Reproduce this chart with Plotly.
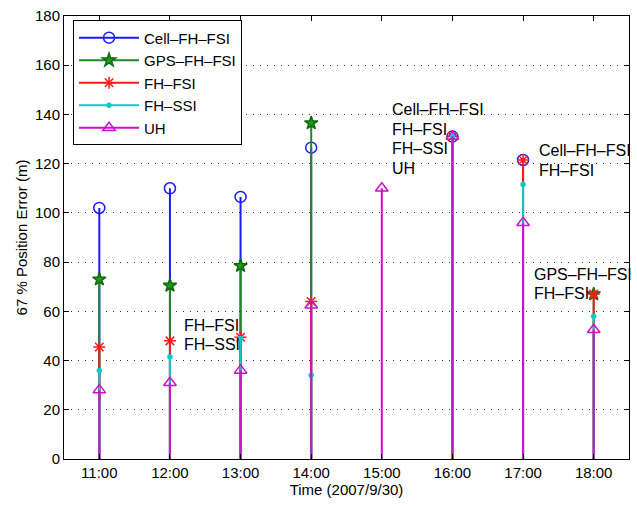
import plotly.graph_objects as go

hours = [11, 12, 13, 14, 15, 16, 17, 18]
tick_labels = ["11:00", "12:00", "13:00", "14:00", "15:00", "16:00", "17:00", "18:00"]
y_ticks = [0, 20, 40, 60, 80, 100, 120, 140, 160, 180]

cell_fh_fsi = [102, 110, 106.5, 126.5, None, 131, 121.5, None]
gps_fh_fsi = [73, 70.5, 78.5, 136.5, None, None, None, 67]
fh_fsi = [45.5, 48, 49.5, 64, None, 131, 121.5, 67]
fh_ssi = [36, 41.5, 49, 34, None, 131, 111.5, 58]
uh = [28, 31, 36, 62.5, 110, 131, 96, 52.5]

series_names = ["Cell–FH–FSI", "GPS–FH–FSI", "FH–FSI", "FH–SSI", "UH"]
series_values = [cell_fh_fsi, gps_fh_fsi, fh_fsi, fh_ssi, uh]

styles = [
    dict(color="#1a1aff", symbol="circle-open", size=11, mline="#1a1aff", mfill="#1a1aff"),
    dict(color="#1f8a1f", symbol="star", size=10, mline="#0f6a0f", mfill="#1f9a1f"),
    dict(color="#ff1a1a", symbol="asterisk-open", size=10, mline="#ff1a1a", mfill="#ff1a1a"),
    dict(color="#10c8c8", symbol="circle", size=4, mline="#10c8c8", mfill="#10c8c8"),
    dict(color="#cc11cc", symbol="triangle-up-open", size=11, mline="#cc11cc", mfill="#cc11cc"),
]

annotations_text = [
    ("FH–FSI", 12.17, 54.2), ("FH–SSI", 12.17, 46.4),
    ("Cell–FH–FSI", 15.11, 142.0), ("FH–FSI", 15.11, 134.0), ("FH–SSI", 15.11, 126.0), ("UH", 15.11, 118.0),
    ("Cell–FH–FSI", 17.2, 125.2), ("FH–FSI", 17.2, 117.3),
    ("GPS–FH–FSI", 17.13, 75.1), ("FH–FSI", 17.13, 67.1),
]

fig = go.Figure()
for name, vals, st in zip(series_names, series_values, styles):
    sx, sy, mx, my = [], [], [], []
    for h, v in zip(hours, vals):
        if v is None:
            continue
        sx += [h, h, None]
        sy += [0, v, None]
        mx += [h, None]
        my += [v, None]
    fig.add_trace(go.Scatter(x=sx, y=sy, mode="lines", line=dict(color=st["color"], width=2),
                             showlegend=False, hoverinfo="skip"))
    fig.add_trace(go.Scatter(x=mx, y=my, mode="lines+markers", name=name, connectgaps=False,
                             line=dict(color=st["color"], width=2),
                             marker=dict(symbol=st["symbol"], size=st["size"], color=st["mfill"],
                                         line=dict(color=st["mline"], width=1.5))))

for txt, x, y in annotations_text:
    fig.add_annotation(x=x, y=y, text=txt, showarrow=False, xanchor="left", yanchor="middle",
                       font=dict(size=16, color="black"))

fig.update_layout(
    width=637, height=506,
    margin=dict(l=64, r=7, t=11, b=47),
    paper_bgcolor="white", plot_bgcolor="white",
    font=dict(family="Liberation Sans, Arial, sans-serif", size=15, color="black"),
    showlegend=True,
    legend=dict(x=0.016, y=0.99, xanchor="left", yanchor="top", bgcolor="white",
                bordercolor="black", borderwidth=1, font=dict(size=15), tracegroupgap=0,
                itemwidth=60),
)
fig.update_xaxes(range=[10.5, 18.5], tickvals=hours, ticktext=tick_labels, showgrid=False,
                 showline=True, linecolor="black", linewidth=1, mirror="ticks",
                 ticks="inside", ticklen=5, tickcolor="black", zeroline=False,
                 title=dict(text="Time (2007/9/30)", standoff=4, font=dict(size=15)))
fig.update_yaxes(range=[0, 180], tickvals=y_ticks, showgrid=True, gridcolor="#333333", gridwidth=1,
                 griddash="1px,6px", showline=True, linecolor="black", linewidth=1, mirror="ticks",
                 ticks="inside", ticklen=5, tickcolor="black", zeroline=False,
                 title=dict(text="67 % Position Error (m)", standoff=3, font=dict(size=15)))

fig.write_html("out.html")
